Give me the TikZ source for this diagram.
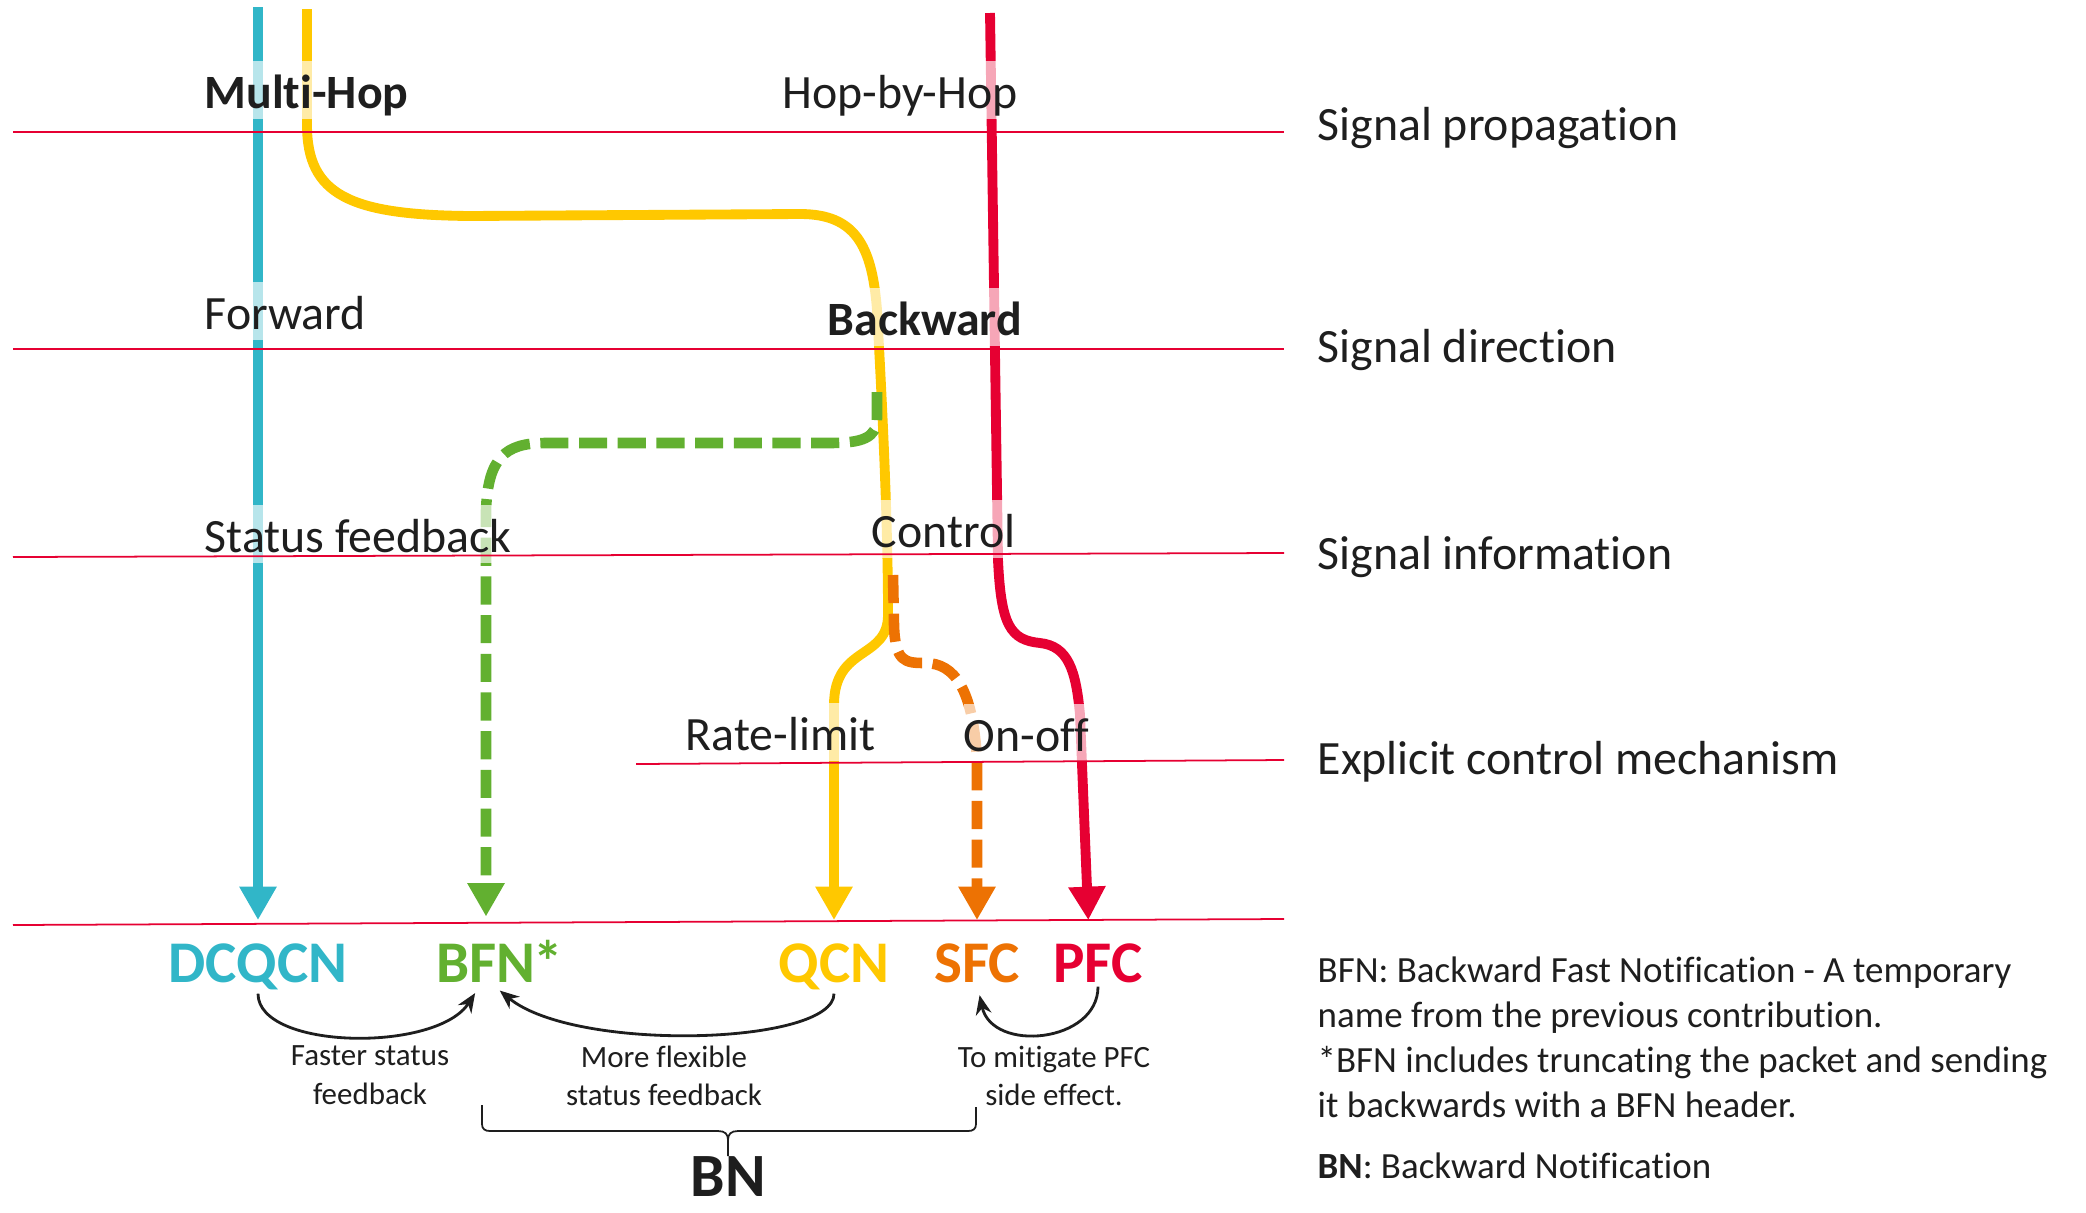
\documentclass[tikz,border=0pt]{standalone}
\usepackage{fontspec}
\setmainfont{Carlito}[Ligatures=NoCommon]
\usetikzlibrary{arrows.meta, calc, positioning}
\definecolor{sigteal}{RGB}{49,182,200}
\definecolor{sigyellow}{RGB}{255,200,0}
\definecolor{siggreen}{RGB}{98,176,48}
\definecolor{sigorange}{RGB}{237,114,3}
\definecolor{sigred}{RGB}{230,0,50}
\definecolor{txt}{RGB}{30,30,30}
\newcommand{\lblfont}{\fontsize{13.6}{16}\selectfont}
\newcommand{\algofont}{\fontsize{16.8}{20}\selectfont}
\newcommand{\notefont}{\fontsize{8.8}{11}\selectfont}
\newcommand{\legfont}{\fontsize{10.5}{12.8}\selectfont}

\begin{document}
\begin{tikzpicture}[x=0.01cm, y=-0.01cm]
    \tikzstyle{sig}=[line width=2.8pt, -{Triangle[length=9.5pt, width=10pt]}, shorten >=6.4pt]
    \tikzstyle{dsig}=[sig, line width=3pt, dash pattern=on 8pt off 3pt]
    \tikzstyle{layer}=[sigred, line width=0.5pt]
    \tikzstyle{lbl}=[anchor=base west, fill=white, fill opacity=0.65, text opacity=1, text=txt, inner xsep=0pt, inner ysep=3.2pt, text height=10.2pt, text depth=0pt, font=\lblfont]
    \tikzstyle{layerlbl}=[anchor=base west, inner sep=0pt, text=txt, font=\lblfont]
    \tikzstyle{algo}=[anchor=base, inner sep=0pt, font=\algofont\bfseries]
    \tikzstyle{note}=[anchor=north, inner sep=0pt, align=center, text=txt, font=\notefont]
    \tikzstyle{why}=[-{Stealth[length=5.5pt, width=4.5pt]}, line width=0.8pt, txt, shorten <=1pt, shorten >=3.5pt]
    \tikzstyle{brc}=[line width=0.5pt, txt]

    \useasboundingbox (0,0) rectangle (2086,1212);

    % Algorithms at the bottom
    \node[algo, sigteal] (dcqcn) at (258,982) {DCQCN};
    \node[algo, siggreen] (bfn) at (486,982) {BFN\rlap{\kern-0.5pt*}};
    \node[algo, sigyellow] (qcn) at (834,982) {QCN};
    \node[algo, sigorange] (sfc) at (977,982) {SFC};
    \node[algo, sigred] (pfc) at (1098,982) {PFC};

    % Where the signals start
    \coordinate (teal-top) at (258,7);
    \coordinate (yel-top) at (307,9);
    \coordinate (red-top) at (990,13);
    \coordinate (grn-top) at (877,392);
    \coordinate (org-top) at (893,575);

    % Signals
    \draw[sig, sigteal] (teal-top) -- (dcqcn.north);
    \draw[sig, sigyellow] (yel-top) -- (307,125)
        .. controls (307,195) and (350,215) .. (470,216) -- (800,214)
        .. controls (855,214) and (872,245) .. (877,310)
        .. controls (882,400) and (888,520) .. (888,615)
        .. controls (888,660) and (834,645) .. (834,705) -- (qcn.north);
    \draw[dsig, siggreen] (grn-top) -- (877,418)
        .. controls (877,438) and (862,443) .. (830,443) -- (545,443)
        .. controls (505,443) and (488,458) .. (486,510) -- (bfn.north);
    \draw[dsig, sigorange] (org-top) -- (894,625)
        .. controls (895,662) and (905,663) .. (925,663)
        .. controls (955,663) and (973,690) .. (977,760) -- (sfc.north);
    \draw[sig, sigred] (red-top) -- (998,560)
        .. controls (1001,625) and (1010,640) .. (1040,643)
        .. controls (1068,646) and (1076,670) .. (1080,715) -- ([xshift=-2.5pt]pfc.north);

    % Labels on the signals
    \node[lbl, font=\lblfont\bfseries] (multihop) at (204,108) {Multi-Hop};
    \node[lbl] (hopbyhop) at (782,108) {Hop-by-Hop};
    \node[lbl] (forward) at (204,329) {Forward};
    \node[lbl, font=\lblfont\bfseries] (backward) at (827,335) {Backward};
    \node[lbl] (status) at (204,552) {Status feedback};
    \node[lbl] (control) at (871,547) {Control};
    \node[lbl] (ratelimit) at (685,750) {Rate-limit};
    \node[lbl] (onoff) at (963,751) {On-off};

    % Layers
    \draw[layer] (13,132) -- (1284,132);
    \draw[layer] (13,349) -- (1284,349);
    \draw[layer] (13,557) -- (1284,553);
    \draw[layer] (636,764) -- (1284,760);
    \draw[layer] (13,925) -- (1284,919);

    \node[layerlbl] (prop) at (1317,140) {Signal propagation};
    \node[layerlbl] (dir) at (1317,362) {Signal direction};
    \node[layerlbl] (info) at (1317,569) {Signal information};
    \node[layerlbl] (mech) at (1317,774) {Explicit control mechanism};

    % Why the new ones
    \draw[why] (dcqcn.south) .. controls +(0,60) and +(-45,70) .. ([xshift=-1.2pt]bfn.south);
    \draw[why] (qcn.south) .. controls +(0,55) and +(85,70) .. ([xshift=1.2pt]bfn.south);
    \draw[why] (pfc.south) .. controls +(0,60) and +(15,70) .. (sfc.south);

    \node[note] (faster) at (370,1045) {Faster status\\feedback};
    \node[note] (flexible) at (664,1045) {More flexible\\status feedback};
    \node[note] (mitigate) at (1054,1045) {To mitigate PFC\\side effect.};

    % Brace over the backward ones
    \draw[brc] (482,1105) -- (482,1124) .. controls (482,1129) and (485,1131) .. (490,1131)
        -- (718,1131) .. controls (725,1131) and (728,1134) .. (728,1140) -- (728,1156);
    \draw[brc] (976,1107) -- (976,1124) .. controls (976,1129) and (973,1131) .. (968,1131)
        -- (738,1131) .. controls (731,1131) and (728,1134) .. (728,1140);
    \node[anchor=base, inner sep=0pt, text=txt, font=\fontsize{17.5}{20}\selectfont\bfseries] (bn) at (728,1196) {BN};

    % Legend
    \node[anchor=north west, inner sep=0pt, align=left, text=txt, font=\legfont] (legend) at (1317,956)
        {BFN: Backward Fast Notification - A temporary\\name from the previous contribution.\\{}*BFN includes truncating the packet and sending\\it backwards with a BFN header.\\[4.5pt]\textbf{BN}: Backward Notification};
\end{tikzpicture}
\end{document}
